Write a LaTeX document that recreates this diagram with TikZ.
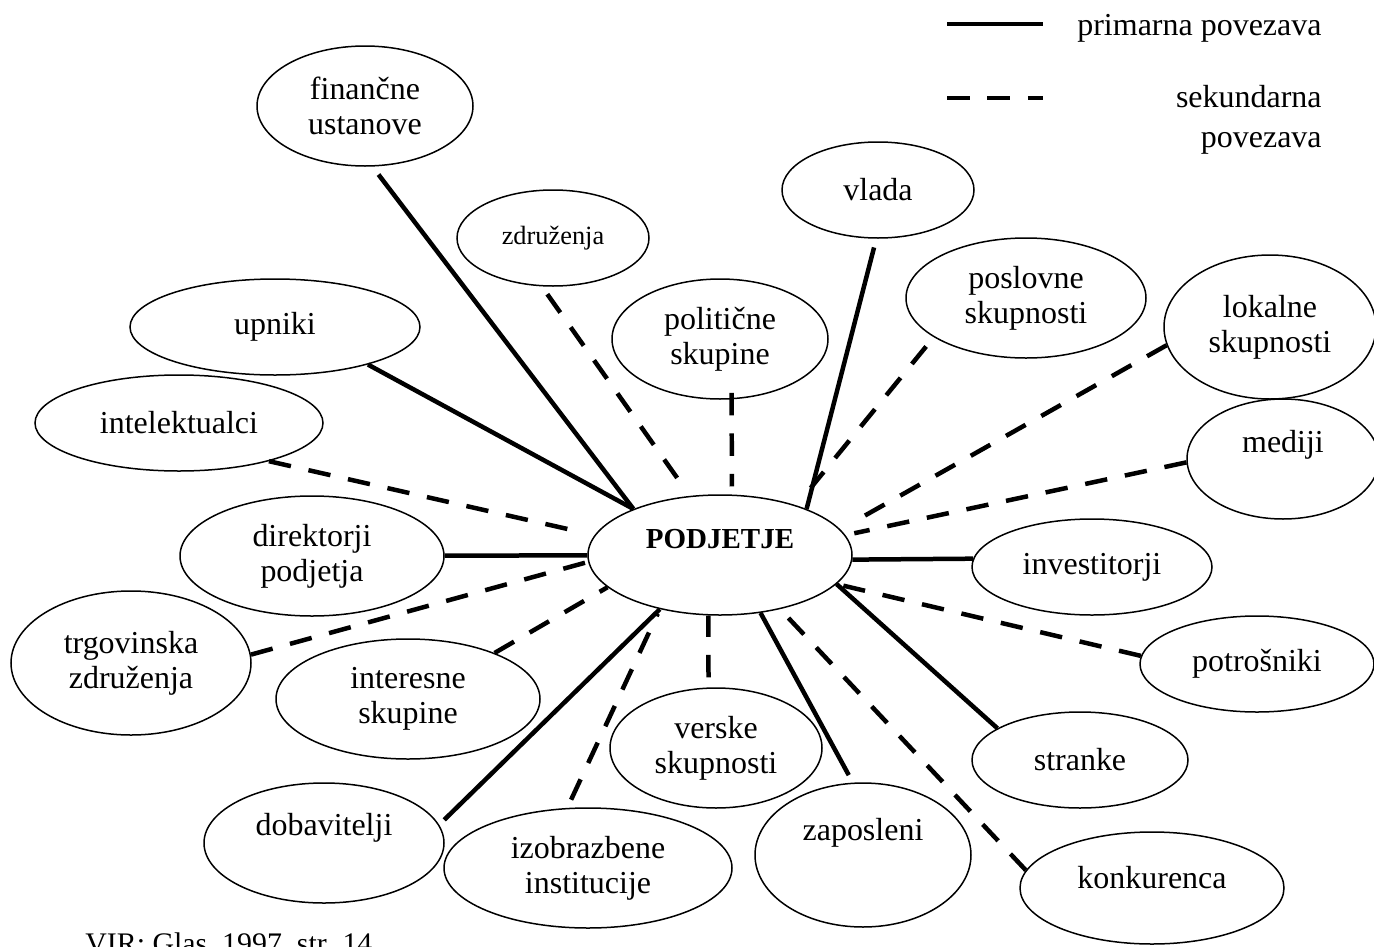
\documentclass[tikz,border=0pt]{standalone}
\usepackage{fontspec}
\setmainfont{Liberation Serif}
\usetikzlibrary{shapes.geometric}

\begin{document}
\begin{tikzpicture}[x=0.02cm, y=-0.02cm,
    every node/.style={font=\fontsize{18.2}{19.9}\selectfont},
    bub/.style 2 args={ellipse, draw, line width=0.03cm, inner sep=0pt, align=center,
      minimum width=#1*0.02cm, minimum height=#2*0.02cm},
    primarna/.style={line width=0.09cm},
    sekundarna/.style={line width=0.09cm, dash pattern=on 0.45cm off 0.36cm}]

  \useasboundingbox (0,0) rectangle (1374,947);

  % legenda
  \coordinate (p1) at (947,24);
  \coordinate (p2) at (1043,24);
  \coordinate (s1) at (947,98);
  \coordinate (s2) at (1043,98);
  \draw[primarna] (p1) -- (p2);
  \draw[sekundarna] (s1) -- (s2);
  \node[anchor=west, inner sep=0] (tprim) at (1077,28) {primarna povezava};
  \node[anchor=east, inner sep=0, align=right] (tsek) at (1322,120) {sekundarna\\[2.8pt]povezava};

  % sredina
  \node[bub={264}{120}, text depth=0.66cm, font=\fontsize{16.5}{19}\selectfont\bfseries] (pod) at (720,555) {PODJETJE};

  \node[bub={216}{120}] (fin) at (365,106) {finančne\\ustanove};
  \node[bub={192}{96}, font=\fontsize{15}{17}\selectfont] (zdr) at (553,238) {združenja};
  \node[bub={192}{96}] (vla) at (878,190) {vlada};
  \node[bub={290}{96}] (upn) at (275,327) {upniki};
  \node[bub={216}{120}] (pol) at (720,339) {politične\\skupine};
  \node[bub={240}{120}] (pos) at (1026,298) {poslovne\\skupnosti};
  \node[bub={212}{144}] (lok) at (1270,327) {lokalne\\skupnosti};
  \node[bub={288}{96}] (int) at (179,423) {intelektualci};
  \node[bub={192}{120}, text depth=0.7cm] (med) at (1283,459) {mediji};
  \node[bub={264}{120}] (dir) at (312,556) {direktorji\\podjetja};
  \node[bub={240}{96}] (inv) at (1092,567) {investitorji};
  \node[bub={240}{144}] (trg) at (131,663) {trgovinska\\združenja};
  \node[bub={264}{120}] (isk) at (408,699) {interesne\\skupine};
  \node[bub={234}{96}] (pot) at (1257,664) {potrošniki};
  \node[bub={212}{120}] (ver) at (716,748) {verske\\skupnosti};
  \node[bub={216}{96}] (str) at (1080,760) {stranke};
  \node[bub={240}{120}, text depth=0.74cm] (dob) at (324,843) {dobavitelji};
  \node[bub={288}{120}] (izo) at (588,868) {izobrazbene\\institucije};
  \node[bub={216}{144}, text depth=1.02cm] (zap) at (863,855) {zaposleni};
  \node[bub={264}{112}, text depth=0.44cm] (kon) at (1152,888) {konkurenca};

  % povezave
  \draw[primarna, shorten <=0.2cm] (fin.-83) -- (pod.152);
  \draw[primarna] (upn.-22) -- (pod.152);
  \draw[sekundarna, shorten <=0.19cm, shorten >=0.42cm] (zdr.257) -- (pod.117);
  \draw[sekundarna, shorten <=-0.13cm, shorten >=0.16cm] (pol.-79) -- (pod.79);
  \draw[primarna, shorten <=0.18cm] (vla.-92) -- (pod.28);
  \draw[sekundarna, shorten <=0.24cm, shorten >=0.45cm] (pos.203) -- (pod.33);
  \draw[sekundarna, shorten >=0.44cm] (lok.190) -- (pod.12);
  \draw[sekundarna, shorten >=0.18cm] (med.182) -- (pod.9);
  \draw[sekundarna, shorten >=0.45cm] (int.-23) -- (pod.171);
  \draw[primarna] (dir) -- (pod);
  \draw[primarna] (pod.-2) -- (inv.176);
  \draw[sekundarna] (trg.4) -- (pod.183);
  \draw[sekundarna] (isk.28) -- (pod.196);
  \draw[sekundarna, shorten >=0.14cm] (pot.176) -- (pod.-14);
  \draw[primarna] (str.159) -- (pod.-14);
  \draw[primarna, shorten <=0.14cm] (dob.9) -- (pod.222);
  \draw[sekundarna, shorten <=0.18cm, shorten >=0.1cm] (izo.109) -- (pod.222);
  \draw[sekundarna, shorten <=0.2cm] (ver.97) -- (pod.-101);
  \draw[primarna, shorten <=0.17cm] (zap.98) -- (pod.-55);
  \draw[sekundarna, shorten >=0.24cm] (kon.172) -- (pod.-42);

  \node[anchor=base west, inner sep=0, font=\fontsize{17}{20}\selectfont] (vir) at (85,953) {VIR: Glas, 1997, str. 14};
\end{tikzpicture}
\end{document}
